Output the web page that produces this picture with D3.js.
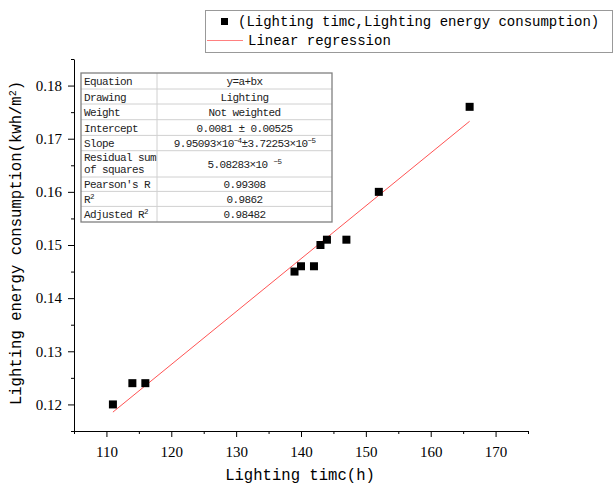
<!DOCTYPE html>
<html>
<head>
<meta charset="utf-8">
<script src="https://cdn.jsdelivr.net/npm/d3@7"></script>
<style>
  body { margin: 0; background: #fff; }
  svg { display: block; }
  .mono { font-family: "Liberation Mono", "DejaVu Sans Mono", monospace; }
  .serif { font-family: "Liberation Serif", "DejaVu Serif", serif; }
</style>
</head>
<body>
<svg id="chart" width="615" height="489"></svg>
<script>
// DATA ////////////////////////////////////////////////////////////////////////

var lightTime = [111, 114, 116, 139, 140, 142, 143, 144, 147, 152, 166];
var energy = [0.120, 0.124, 0.124, 0.145, 0.146, 0.146, 0.150, 0.151, 0.151, 0.160, 0.176];

// fitted line y = a + b*x
var fitA = 0.0081;
var fitB = 9.95093e-4;

var xTicks = [110, 120, 130, 140, 150, 160, 170];
var xMinor = [105, 115, 125, 135, 145, 155, 165, 175];
var yTicks = [0.12, 0.13, 0.14, 0.15, 0.16, 0.17, 0.18];
var yMinor = [0.115, 0.125, 0.135, 0.145, 0.155, 0.165, 0.175, 0.185];

var legendLabels = ["(Lighting timc,Lighting energy consumption)", "Linear regression"];

// table rows: label lines, value pieces (sup = superscript)
var tableLabels = [["Equation"], ["Drawing"], ["Weight"], ["Intercept"], ["Slope"],
    ["Residual sum", "of squares"], ["Pearson's R"], [["R", "2"]], [["Adjusted R", "2"]]];
var tableValues = [
    [{ t: "y=a+bx" }],
    [{ t: "Lighting" }],
    [{ t: "Not weighted" }],
    [{ t: "0.0081 ± 0.00525" }],
    [{ t: "9.95093×10" }, { t: "−4", sup: true }, { t: "±3.72253×10" }, { t: "−5", sup: true }],
    [{ t: "5.08283×10 " }, { t: "−5", sup: true }],
    [{ t: "0.99308" }],
    [{ t: "0.9862" }],
    [{ t: "0.98482" }]
];

// SETUP ///////////////////////////////////////////////////////////////////////

var LEFT = 74, RIGHT = 528, TOP = 59, BOTTOM = 431;

var svg = d3.select("#chart");

var x = d3.scaleLinear().domain([105, 175]).range([LEFT, RIGHT]);
var y = d3.scaleLinear().domain([0.115, 0.185]).range([BOTTOM, TOP]);

// minor ticks first, then major ticks with labels
svg.append("g")
    .attr("transform", "translate(0," + BOTTOM + ")")
    .call(d3.axisBottom(x).tickValues(xMinor).tickSize(3).tickSizeOuter(0).tickFormat(""))
    .call(g => g.select(".domain").remove());

svg.append("g")
    .attr("transform", "translate(" + LEFT + ",0)")
    .call(d3.axisLeft(y).tickValues(yMinor).tickSize(3).tickSizeOuter(0).tickFormat(""))
    .call(g => g.select(".domain").remove());

var xAxis = svg.append("g")
    .attr("transform", "translate(0," + BOTTOM + ")")
    .call(d3.axisBottom(x).tickValues(xTicks).tickSize(6).tickSizeOuter(0).tickPadding(9));
xAxis.attr("font-family", null).attr("font-size", null);
xAxis.selectAll("text")
    .attr("class", "serif")
    .style("font-size", "15px")
    .attr("fill", "#000");

var yAxis = svg.append("g")
    .attr("transform", "translate(" + LEFT + ",0)")
    .call(d3.axisLeft(y).tickValues(yTicks).tickSize(6).tickSizeOuter(0).tickPadding(6)
        .tickFormat(d3.format(".2f")));
yAxis.attr("font-family", null).attr("font-size", null);
yAxis.selectAll("text")
    .attr("class", "serif")
    .style("font-size", "15px")
    .attr("fill", "#000");

svg.selectAll(".domain, .tick line").attr("stroke", "#000");

// axis titles
svg.append("text")
    .attr("class", "mono")
    .attr("x", 300)
    .attr("y", 480)
    .attr("text-anchor", "middle")
    .style("font-size", "15.6px")
    .text("Lighting timc(h)");

var yTitle = svg.append("text")
    .attr("class", "mono")
    .attr("transform", "translate(21,243) rotate(-90)")
    .attr("text-anchor", "middle")
    .style("font-size", "15.6px");
yTitle.append("tspan").text("Lighting energy consumption(kwh/m");
yTitle.append("tspan").attr("baseline-shift", "super").style("font-size", "10px").text("2");
yTitle.append("tspan").text(")");

// regression line across the data range
var xr = d3.extent(lightTime);
svg.append("line")
    .attr("x1", x(xr[0])).attr("y1", y(fitA + fitB * xr[0]))
    .attr("x2", x(xr[1])).attr("y2", y(fitA + fitB * xr[1]))
    .attr("stroke", "#ff4040")
    .attr("stroke-width", 0.9);

// points
var SQ = 8;
svg.append("g")
    .selectAll("rect")
    .data(lightTime)
    .enter().append("rect")
    .attr("x", (d, i) => x(d) - SQ / 2)
    .attr("y", (d, i) => y(energy[i]) - SQ / 2)
    .attr("width", SQ)
    .attr("height", SQ)
    .attr("fill", "#000");

// LEGEND //////////////////////////////////////////////////////////////////////

var legend = svg.append("g");
legend.append("rect")
    .attr("x", 205.5).attr("y", 10.5)
    .attr("width", 407).attr("height", 42)
    .attr("fill", "#fff")
    .attr("stroke", "#999");
legend.append("rect")
    .attr("x", 221).attr("y", 18)
    .attr("width", 7).attr("height", 7)
    .attr("fill", "#000");
legend.append("line")
    .attr("x1", 207).attr("x2", 243)
    .attr("y1", 40.5).attr("y2", 40.5)
    .attr("stroke", "#ff8080");
legend.selectAll("text.leg")
    .data(legendLabels)
    .enter().append("text")
    .attr("class", "mono leg")
    .attr("x", (d, i) => i === 0 ? 238 : 248)
    .attr("y", (d, i) => 26 + i * 19)
    .style("font-size", "14px")
    .text(d => d);

// TABLE ///////////////////////////////////////////////////////////////////////

var TX = 81, TY = 73, TW = 251, COL = 76;
var rowH = [16, 15, 15.7, 15.7, 15.3, 26.3, 14.4, 15, 15.6];
var rowY = [0];
rowH.forEach(h => rowY.push(rowY[rowY.length - 1] + h));

var table = svg.append("g").attr("transform", "translate(" + TX + "," + TY + ")");
table.append("rect")
    .attr("width", TW).attr("height", rowY[rowY.length - 1])
    .attr("fill", "#fff");

// inner row lines
table.selectAll("line.row")
    .data(rowY.slice(1, -1))
    .enter().append("line")
    .attr("x1", 0).attr("x2", TW)
    .attr("y1", d => d).attr("y2", d => d)
    .attr("stroke", "#d0d0d0");
table.append("line")
    .attr("x1", COL).attr("x2", COL)
    .attr("y1", 0).attr("y2", rowY[rowY.length - 1])
    .attr("stroke", "#d0d0d0");
table.append("rect")
    .attr("width", TW).attr("height", rowY[rowY.length - 1])
    .attr("fill", "none")
    .attr("stroke", "#808080")
    .attr("stroke-width", 1.3);

function addPieces(txt, pieces) {
    pieces.forEach(function (p) {
        var ts = txt.append("tspan").text(p.t);
        if (p.sup) ts.attr("baseline-shift", "super").style("font-size", "7.5px");
    });
}

tableLabels.forEach(function (lab, i) {
    var mid = (rowY[i] + rowY[i + 1]) / 2;
    lab.forEach(function (line, j) {
        var ty = lab.length === 1 ? mid + 4 : mid - 2.5 + j * 11.5;
        var t = table.append("text")
            .attr("class", "mono")
            .attr("x", 3)
            .attr("y", ty)
            .style("font-size", "11px")
            .style("letter-spacing", "-0.6px")
            .attr("fill", "#222");
        if (Array.isArray(line)) addPieces(t, [{ t: line[0] }, { t: line[1], sup: true }]);
        else t.text(line);
    });
});

tableValues.forEach(function (val, i) {
    var mid = (rowY[i] + rowY[i + 1]) / 2;
    var t = table.append("text")
        .attr("class", "mono")
        .attr("x", (COL + TW) / 2)
        .attr("y", mid + 4)
        .attr("text-anchor", "middle")
        .style("font-size", "11px")
        .style("letter-spacing", "-0.6px")
        .attr("fill", "#222");
    addPieces(t, val);
});
</script>
</body>
</html>
